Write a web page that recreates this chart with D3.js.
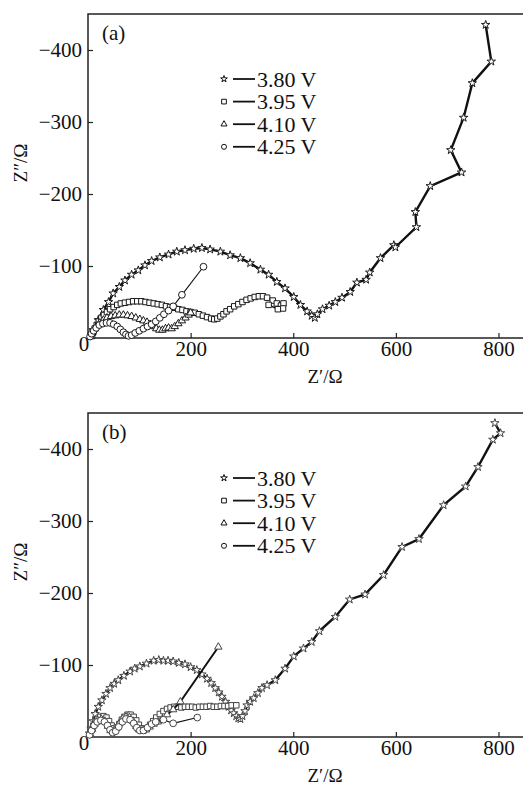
<!DOCTYPE html>
<html>
<head>
<meta charset="utf-8">
<script src="https://cdn.jsdelivr.net/npm/d3@7"></script>
<style>
  body { margin: 0; background: #fff; }
  text { font-family: "Liberation Serif", "Times New Roman", serif; fill: #111; }
</style>
</head>
<body>
<div id="chart"></div>
<script>
// legend names and ticks
const seriesNames = ["3.80 V", "3.95 V", "4.10 V", "4.25 V"];
const xTickValues = [200, 400, 600, 800];
const yTickValues = [100, 200, 300, 400];

// panel (a): [Z', -Z'']
const a380 = [[8,5],[10,11],[20,25],[30,39],[40,50],[49,62],[61,71],[72,80],[85,88],[98,94],[111,101],[124,107],
  [140,112],[157,116],[173,120],[189,122],[206,124],[222,125],[238,123],[258,120],[277,115],[297,111],[316,104],
  [336,95],[352,88],[368,78],[384,69],[401,57],[414,46],[427,37],[436,31],[442,28],[447,33],[457,40],[470,45],
  [482,50],[495,56],[511,64],[524,77],[542,81],[549,91],[570,111],[596,129],[599,126],[640,154],[638,175],
  [667,211],[728,230],[707,261],[732,306],[749,354],[786,384],[775,435]];
const a395 = [[8,3],[10,8],[13,13],[17,18],[21,23],[26,28],[31,32],[37,36],[43,40],[50,43],[57,46],[64,48],[72,49],
  [80,50],[88,51],[96,51],[104,51],[112,50],[120,49],[128,48],[136,47],[144,46],[152,44],[160,43],[168,42],[176,40],
  [184,39],[192,37],[200,36],[208,35],[216,33],[224,31],[232,29],[240,27],[246,26],[252,27],[258,30],[264,33],
  [270,37],[277,40],[285,44],[293,47],[301,50],[309,53],[317,55],[325,57],[333,58],[341,58],[349,56],[360,52],
  [368,48],[376,45],[381,48],[380,41],[370,40],[352,46]];
const a410 = [[5,2],[8,7],[12,12],[17,17],[23,21],[30,25],[37,28],[45,30],[53,31],[61,32],[69,32],[77,31],[85,30],
  [93,28],[101,26],[108,24],[115,22],[121,19],[127,16],[133,13],[139,11],[145,11],[151,13],[157,14],[163,13],
  [169,16],[176,20],[183,24],[190,28],[196,32],[200,35]];
const a425 = [[4,2],[7,6],[11,10],[16,14],[22,18],[29,20],[36,21],[43,21],[50,19],[57,16],[63,12],[69,8],[74,5],
  [79,3],[85,4],[92,7],[100,10],[108,13],[116,16],[124,19],[132,23],[140,28],[148,33],[157,38],[166,44],[183,60],
  [225,99]];

// panel (b)
const b380 = [[3,5],[6,12],[10,22],[14,32],[20,42],[27,51],[35,60],[43,68],[51,74],[59,79],[70,85],[82,91],[91,95],
  [101,98],[114,102],[128,106],[138,107],[147,106],[156,106],[166,105],[177,103],[189,101],[200,97],[212,93],
  [222,87],[232,81],[240,75],[248,68],[255,62],[261,56],[268,49],[274,42],[279,37],[284,33],[289,29],[293,26],
  [297,25],[301,29],[306,36],[310,44],[316,49],[323,54],[331,61],[339,68],[349,72],[365,79],[384,95],[401,112],
  [420,123],[436,132],[451,147],[482,167],[510,191],[540,198],[576,225],[612,264],[645,275],[693,322],[736,348],
  [760,375],[789,413],[804,422],[793,436]];
const b395 = [[3,3],[6,9],[10,15],[14,20],[19,25],[24,28],[30,29],[36,27],[41,22],[46,16],[51,12],[56,13],[61,18],
  [66,24],[71,28],[77,31],[83,31],[89,28],[94,23],[99,17],[104,12],[109,10],[115,12],[121,17],[127,22],[133,27],
  [140,32],[147,36],[154,39],[161,41],[168,42],[175,42],[182,41],[189,42],[196,42],[203,42],[210,41],[217,42],
  [224,42],[231,42],[238,43],[245,42],[252,42],[259,43],[266,43],[273,43],[280,44],[289,44]];
const b410 = [[4,4],[8,11],[13,18],[19,23],[26,25],[33,22],[39,15],[44,9],[49,7],[55,12],[61,19],[67,25],[74,28],
  [81,27],[88,22],[94,15],[100,10],[106,8],[113,10],[120,14],[128,18],[136,21],[144,24],[154,31],[166,38],
  [180,49],[254,125]];
const b425 = [[3,3],[7,9],[12,16],[18,21],[25,23],[32,21],[38,16],[43,10],[48,6],[54,8],[60,14],[67,21],[74,25],
  [82,24],[89,19],[95,13],[101,9],[108,9],[116,13],[124,18],[132,21],[147,24],[166,19],[213,27]];

const W = 523, H = 789;
const svg = d3.select("#chart").append("svg")
  .attr("width", W).attr("height", H)
  .style("background", "#fff");

const symbols = [d3.symbolStar, d3.symbolSquare, d3.symbolTriangle, d3.symbolCircle];
const markerSize = [22, 30, 24, 36];
const lineWidth = [2.4, 1.4, 2, 1.1];

const x = d3.scaleLinear().domain([0, 800]).range([88, 498.5]);

function drawPanel(series, bottom, label, markStroke) {
  const y = d3.scaleLinear().domain([0, 400]).range([bottom, bottom - 288]);
  const top = y(450);
  const g = svg.append("g");

  // frame (right side runs off the picture)
  g.append("rect")
    .attr("x", x(0)).attr("y", top)
    .attr("width", W).attr("height", bottom - top)
    .attr("fill", "none").attr("stroke", "#222").attr("stroke-width", 1.5);

  const yAxis = d3.axisLeft(y).tickValues(yTickValues)
    .tickSize(-5).tickPadding(6).tickFormat(d => "\u2212" + d);
  const ya = g.append("g").attr("transform", `translate(${x(0)},0)`).call(yAxis);
  const xAxis = d3.axisBottom(x).tickValues(xTickValues)
    .tickSize(-5).tickPadding(3).tickFormat(d3.format("d"));
  const xa = g.append("g").attr("transform", `translate(0,${bottom})`).call(xAxis);
  [ya, xa].forEach(a => {
    a.select(".domain").remove();
    a.selectAll(".tick line").attr("stroke", "#222").attr("stroke-width", 1.2);
    a.selectAll(".tick text").attr("font-size", 21).attr("fill", "#111")
      .attr("font-family", "Liberation Serif, serif");
  });
  g.append("text").attr("x", x(0) - 4).attr("y", bottom + 13)
    .attr("text-anchor", "middle").attr("font-size", 21).text("0");

  // axis titles
  g.append("text").attr("x", 325).attr("y", bottom + 45)
    .attr("text-anchor", "middle").attr("font-size", 19).text("Z\u2032/\u03A9");
  g.append("text")
    .attr("transform", `translate(27,${bottom - 175}) rotate(-90)`)
    .attr("text-anchor", "middle").attr("font-size", 19).text("Z\u2033/\u03A9");

  g.append("text").attr("x", 102).attr("y", top + 26)
    .attr("font-size", 21).text(label);

  // series
  const line = d3.line().x(d => x(d[0])).y(d => y(d[1]));
  series.forEach((pts, i) => {
    g.append("path").datum(pts)
      .attr("d", line).attr("fill", "none")
      .attr("stroke", "#111").attr("stroke-width", lineWidth[i]);
    g.selectAll(null).data(pts).join("path")
      .attr("transform", d => `translate(${x(d[0])},${y(d[1])})`)
      .attr("d", d3.symbol(symbols[i], markerSize[i]))
      .attr("fill", "#fff").attr("stroke", markStroke).attr("stroke-width", 1);
  });

  // legend
  const leg = g.append("g").attr("transform", `translate(0,${top + 65})`);
  seriesNames.forEach((name, i) => {
    const row = leg.append("g").attr("transform", `translate(0,${i * 22.6})`);
    row.append("path").attr("transform", "translate(224,0)")
      .attr("d", d3.symbol(symbols[i], [14, 22, 16, 20][i]))
      .attr("fill", "#fff").attr("stroke", "#111").attr("stroke-width", 1);
    row.append("line").attr("x1", 233).attr("x2", 255)
      .attr("stroke", "#111").attr("stroke-width", 1.8);
    row.append("text").attr("x", 257).attr("y", 7.5)
      .attr("font-size", 22).text(name);
  });
}

drawPanel([a380, a395, a410, a425], 338, "(a)", "#1a1a1a");
drawPanel([b380, b395, b410, b425], 737, "(b)", "#444");
</script>
</body>
</html>
